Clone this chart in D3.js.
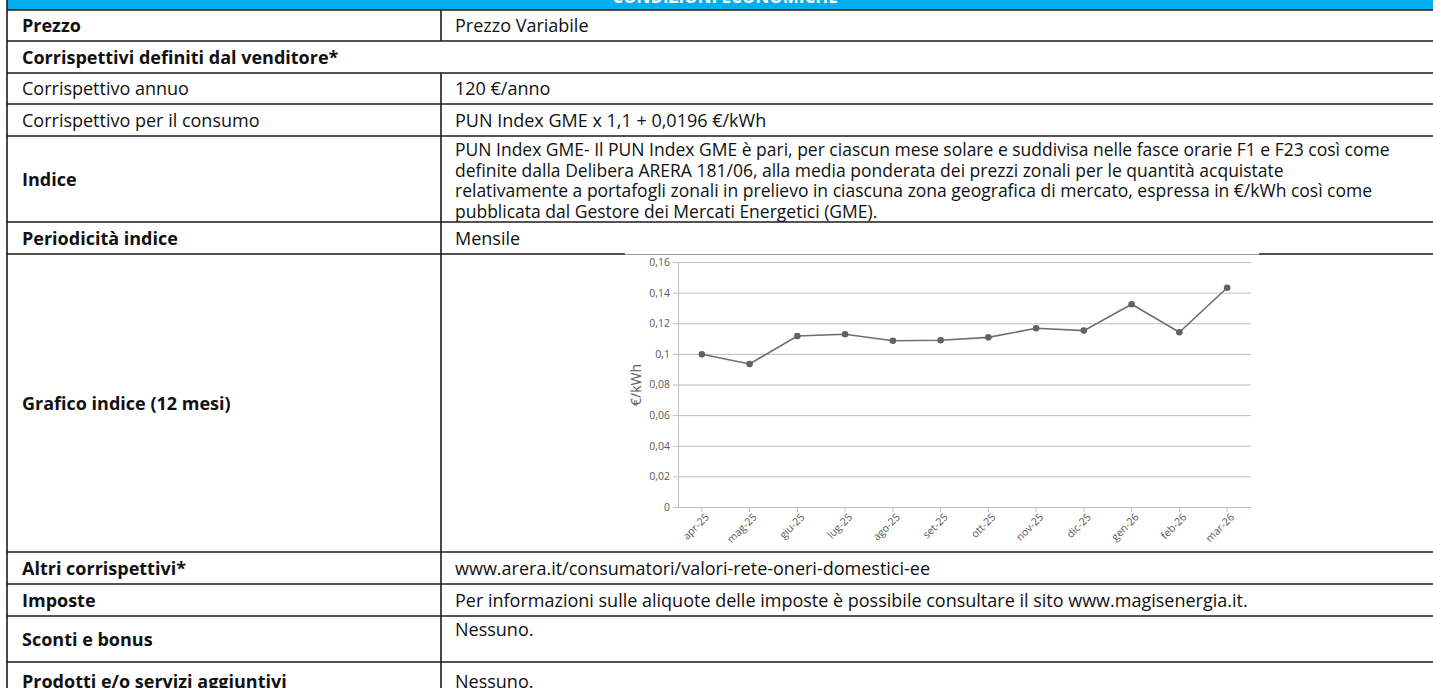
<!DOCTYPE html>
<meta charset="utf-8">
<style>
body { margin: 0; background: #fff; }
text { font-family: "Open Sans", sans-serif; fill: #111; }
.lab { font-size: 18px; }
.par { font-size: 17.5px; }
.b { font-weight: bold; }
.grafico text { fill: #595959; font-size: 10.5px; }
.grafico .domain { stroke: #bfbfbf; }
.grafico .tick line { stroke: #bfbfbf; }
.grid .tick line { stroke: #bcbcbc; }
.grid .domain { display: none; }
</style>
<svg width="1433" height="688" id="tab"></svg>
<script src="https://cdnjs.cloudflare.com/ajax/libs/d3/7.8.5/d3.min.js"></script>
<script>

// dati del grafico PUN Index GME (€/kWh)
var mesi = ["apr-25", "mag-25", "giu-25", "lug-25", "ago-25", "set-25", "ott-25", "nov-25", "dic-25", "gen-26", "feb-26", "mar-26"];
var pun = [0.0997, 0.0934, 0.1117, 0.1128, 0.1086, 0.1089, 0.1108, 0.1167, 0.1152, 0.1324, 0.1141, 0.1432];
var tickY = [0, 0.02, 0.04, 0.06, 0.08, 0.1, 0.12, 0.14, 0.16];
var tickYLabel = ["0", "0,02", "0,04", "0,06", "0,08", "0,1", "0,12", "0,14", "0,16"];

// testo della tabella
var titolo = "CONDIZIONI ECONOMICHE";
var etichette = ["Prezzo", "Corrispettivi definiti dal venditore*", "Corrispettivo annuo", "Corrispettivo per il consumo",
  "Indice", "Periodicità indice", "Grafico indice (12 mesi)", "Altri corrispettivi*", "Imposte", "Sconti e bonus",
  "Prodotti e/o servizi aggiuntivi"];
var grassetto = [1, 1, 0, 0, 1, 1, 1, 1, 1, 1, 1];
var valori = [
  ["Prezzo Variabile"],
  null,
  ["120 €/anno"],
  ["PUN Index GME x 1,1 + 0,0196 €/kWh"],
  ["PUN Index GME- Il PUN Index GME è pari, per ciascun mese solare e suddivisa nelle fasce orarie F1 e F23 così come",
   "definite dalla Delibera ARERA 181/06, alla media ponderata dei prezzi zonali per le quantità acquistate",
   "relativamente a portafogli zonali in prelievo in ciascuna zona geografica di mercato, espressa in €/kWh così come",
   "pubblicata dal Gestore dei Mercati Energetici (GME)."],
  ["Mensile"],
  [],
  ["www.arera.it/consumatori/valori-rete-oneri-domestici-ee"],
  ["Per informazioni sulle aliquote delle imposte è possibile consultare il sito www.magisenergia.it."],
  ["Nessuno."],
  ["Nessuno."]
];

// layout (bordi delle righe)
var bordi = [10, 41, 73, 104, 136, 222, 254, 552, 584, 616, 662, 700];
var xSx = 7, xCol = 441, xDx = 1440;
var lh = 20.7;

var svg = d3.select("#tab");

// intestazione
svg.append("rect").attr("x", xSx).attr("y", -2).attr("width", xDx - xSx).attr("height", bordi[0] + 2)
  .attr("fill", "#00aeef");
svg.append("text").attr("class", "b").attr("x", 725).attr("y", 3).attr("text-anchor", "middle")
  .style("fill", "#fff").style("font-size", "17px").text(titolo);

var righe = svg.selectAll(".riga").data(etichette).enter().append("g").attr("class", "riga");

righe.append("text")
  .attr("class", function(d, i) { return "lab" + (grassetto[i] ? " b" : ""); })
  .attr("x", 22)
  .attr("y", function(d, i) { return (bordi[i] + bordi[i + 1]) / 2 + 6.5; })
  .text(function(d) { return d; });

righe.each(function(d, i) {
  var v = valori[i];
  if (!v || !v.length) return;
  var g = d3.select(this);
  var top = bordi[i], h = bordi[i + 1] - top;
  var y0 = v.length > 1 || h > 40 ? top + 20 : top + h / 2 + 6.5;
  if (i == etichette.length - 1) y0 = (bordi[i] + bordi[i + 1]) / 2 + 6.5;
  g.selectAll("text.val").data(v).enter().append("text")
    .attr("class", v.length > 1 ? "par val" : "lab val")
    .attr("x", 455)
    .attr("y", function(r, j) { return y0 + j * lh; })
    .text(function(r) { return r; });
});

// linee della tabella
var linee = svg.append("g").attr("stroke", "#1a1a1a").attr("stroke-width", 1.6);
linee.selectAll("line.h").data(bordi.slice(0, -1)).enter().append("line")
  .attr("x1", xSx).attr("x2", xDx).attr("y1", function(d) { return d; }).attr("y2", function(d) { return d; });
linee.append("line").attr("x1", xSx).attr("x2", xSx).attr("y1", 0).attr("y2", 688);
linee.selectAll("line.v").data(d3.range(etichette.length).filter(function(i) { return valori[i]; }))
  .enter().append("line")
  .attr("x1", xCol).attr("x2", xCol)
  .attr("y1", function(i) { return bordi[i]; }).attr("y2", function(i) { return bordi[i + 1]; });

// grafico indice
var gr = svg.append("g").attr("class", "grafico");
gr.append("rect").attr("x", 625).attr("y", 253).attr("width", 634).attr("height", 296).attr("fill", "#fff");
gr.append("line").attr("x1", 625).attr("x2", 1259).attr("y1", 254.5).attr("y2", 254.5)
  .attr("stroke", "#9a9a9a").attr("stroke-width", 1);

var x = d3.scaleBand().domain(mesi).range([678, 1251]);
var y = d3.scaleLinear().domain([0, 0.16]).range([507, 262]);

gr.append("g").attr("class", "grid").attr("transform", "translate(678,0)")
  .call(d3.axisLeft(y).tickValues(tickY.slice(1)).tickSize(-(1251 - 678)).tickFormat(""));

gr.append("g").attr("transform", "translate(678,0)")
  .call(d3.axisLeft(y).tickValues(tickY).tickSize(5).tickSizeOuter(0).tickPadding(3)
    .tickFormat(function(d, i) { return tickYLabel[i]; }));

var ax = gr.append("g").attr("transform", "translate(0,507)")
  .call(d3.axisBottom(x).tickSize(5).tickSizeOuter(0));
ax.selectAll("text")
  .attr("text-anchor", "end")
  .attr("dx", "-0.2em").attr("dy", "0.5em")
  .attr("transform", "rotate(-45)");

gr.append("text").attr("transform", "translate(641,385) rotate(-90)")
  .attr("text-anchor", "middle").style("font-size", "14px").text("€/kWh");

var linea = d3.line()
  .x(function(d, i) { return x(mesi[i]) + x.bandwidth() / 2; })
  .y(function(d) { return y(d); });

gr.append("path").datum(pun).attr("d", linea)
  .attr("fill", "none").attr("stroke", "#6e6e6e").attr("stroke-width", 1.6);

gr.selectAll("circle").data(pun).enter().append("circle")
  .attr("cx", function(d, i) { return x(mesi[i]) + x.bandwidth() / 2; })
  .attr("cy", function(d) { return y(d); })
  .attr("r", 3.3)
  .attr("fill", "#626262");

</script>
